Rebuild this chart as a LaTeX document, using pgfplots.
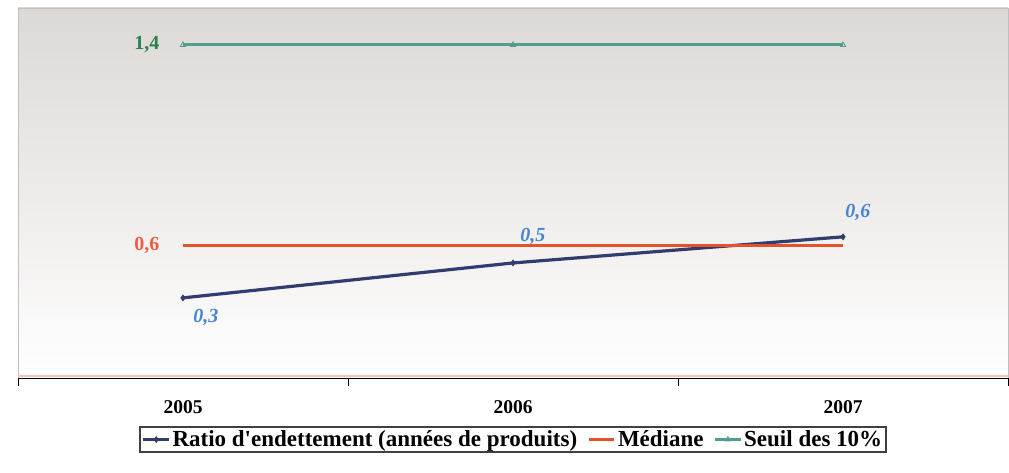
\documentclass[border=0pt]{standalone}
\usepackage{pgfplots}
\pgfplotsset{compat=1.18}
\usepackage{fontspec}
\setmainfont{Liberation Serif}

\definecolor{ratio}{RGB}{50,60,110}
\definecolor{mediane}{RGB}{228,82,42}
\definecolor{seuil}{RGB}{82,158,142}
\definecolor{labblue}{RGB}{72,132,212}
\definecolor{labgreen}{RGB}{44,128,80}
\definecolor{labred}{RGB}{232,96,64}
\definecolor{bgtop}{RGB}{220,216,213}

\begin{document}
\begin{tikzpicture}
\useasboundingbox (0,0) rectangle (1009pt,473pt);
\begin{axis}[
    at={(18pt,95pt)}, anchor=south west,
    scale only axis,
    width=990pt, height=370pt,
    xmin=-0.5, xmax=2.5,
    ymin=0.074, ymax=1.547,
    axis x line*=bottom,
    axis y line=none,
    x axis line style={black, line width=0.8pt, -},
    xtick={0,1,2},
    xticklabels={2005,2006,2007},
    major tick length=0pt,
    minor xtick={-0.5,0.5,1.5,2.5},
    minor tick length=8pt,
    tick align=outside,
    minor tick style={black, line width=0.8pt},
    x tick label style={font=\fontsize{19.5}{19.5}\selectfont\bfseries, yshift=-19pt},
    axis background/.style={top color=bgtop, bottom color=white},
    clip=false,
    legend columns=3,
    legend style={at={(0.5,0)}, anchor=north, yshift=-48pt,
        draw=black!75, line width=1.6pt,
        font=\fontsize{23}{23}\selectfont\bfseries,
        inner sep=2pt,
        /tikz/every even column/.append style={column sep=8pt}},
    legend image code/.code={
        \draw[#1, mark=none] (0cm,0cm) -- (0.9cm,0cm);
        \draw[#1] plot coordinates {(0.45cm,0cm)};
    },
    nodes near coords,
    point meta=explicit symbolic,
]
\draw[black!25, line width=0.8pt] (rel axis cs:0,0) -- (rel axis cs:0,1) -- (rel axis cs:1,1) -- (rel axis cs:1,0);
\draw[mediane!35, line width=1.5pt] (rel axis cs:0,0.006) -- (rel axis cs:1,0.006);

\addplot[ratio, line width=3.2pt, mark=diamond*, mark size=3pt,
    mark options={line width=0.6pt},
    visualization depends on={value \thisrow{dx} \as \dx},
    visualization depends on={value \thisrow{dy} \as \dy},
    every node near coord/.append style={font=\fontsize{20}{20}\selectfont\bfseries\itshape,
        text=labblue, anchor=west, xshift=\dx pt, yshift=\dy pt, inner sep=0pt}]
    table[x=x, y=y, meta=lab] {
x y lab dx dy
0 0.393 0,3 10 -20
1 0.532 0,5 7 27
2 0.636 0,6 2 24
};
\addlegendentry{Ratio d\textquotesingle endettement (années de produits)}

\addplot[mediane, line width=3.2pt, mark=none, nodes near coords=\empty]
    coordinates {(0,0.6) (1,0.6) (2,0.6)};
\addlegendentry{Médiane}

\addplot[seuil, line width=3pt, mark=triangle, mark size=3pt,
    mark options={line width=0.8pt}, nodes near coords=\empty]
    coordinates {(0,1.4) (1,1.4) (2,1.4)};
\addlegendentry{Seuil des 10\%}

\addplot[draw=none, mark=none, forget plot,
    every node near coord/.append style={font=\fontsize{20}{20}\selectfont\bfseries,
        text=labgreen, anchor=east, xshift=-20pt}]
    table[x=x, y=y, meta=lab] {
x y lab
0 1.4 1,4
};
\addplot[draw=none, mark=none, forget plot,
    every node near coord/.append style={font=\fontsize{20}{20}\selectfont\bfseries,
        text=labred, anchor=east, xshift=-20pt}]
    table[x=x, y=y, meta=lab] {
x y lab
0 0.6 0,6
};
\end{axis}
\end{tikzpicture}
\end{document}
